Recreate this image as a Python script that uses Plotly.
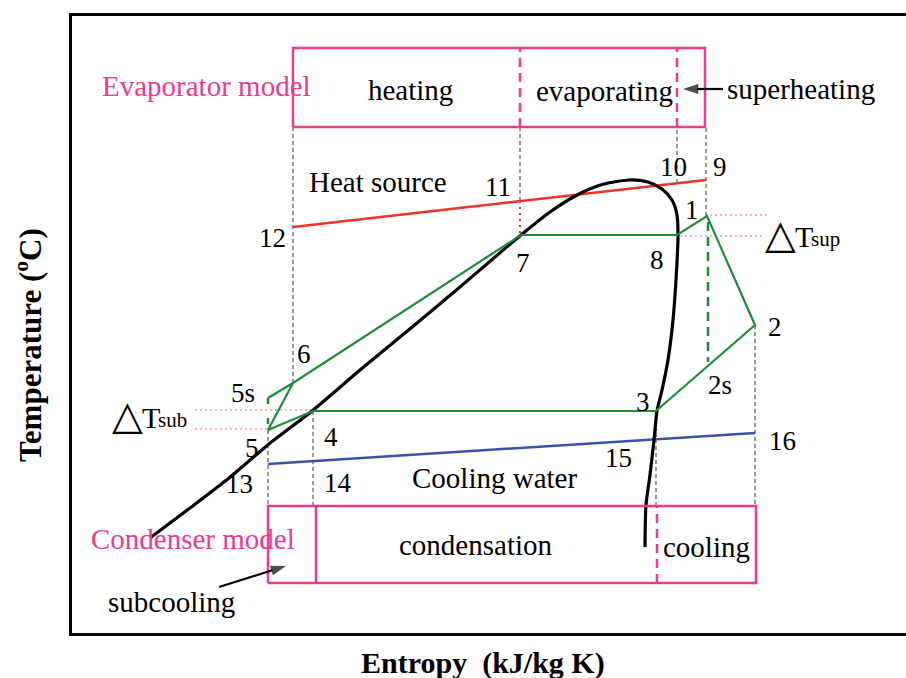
import plotly.graph_objects as go

# ---------------- data (schematic entropy s, temperature T) ----------------
point_names = ["1", "2", "2s", "3", "4", "5", "5s", "6", "7", "8",
               "9", "10", "11", "12", "13", "14", "15", "16"]
point_s = [635, 683, 635, 584, 241, 196, 196, 221, 449, 605,
           634, 605, 448, 221, 196, 244, 584, 683]
point_T = [417, 308, 271, 222, 222, 203, 235, 250, 398, 398,
           453, 450, 432, 406, 169, 172, 193, 200]

# saturation dome
dome_s = [78, 118, 157, 197, 240, 288, 339, 388, 449, 478, 507, 532, 557, 576,
          590, 600, 605, 606, 604, 601, 596, 590, 585, 582, 578, 574, 573]
dome_T = [95, 125, 155, 189, 222, 263, 305, 346, 398, 421, 439, 449, 453, 451,
          444, 433, 418, 398, 353, 313, 273, 243, 222, 193, 158, 128, 86]

cycle_path = ["5s", "6", "7", "8", "1", "2", "3", "4", "5", "6"]
heat_source = ["12", "9"]
cooling_water = ["13", "16"]

P = {n: (s, t) for n, s, t in zip(point_names, point_s, point_T)}

# ---------------- styles ----------------
FONT = "Liberation Serif, Times New Roman, serif"
PINK = "#ec3a8d"
GREEN = "#1e8b3e"
RED = "#f0322a"
LRED = "#f39a9a"
BLUE = "#3a52a6"
DASHC = "#333333"

EVAP_T = (506, 585)
COND_T = (50, 127)

fig = go.Figure()


def line(xs, ys, color, width, dash=None, shape="linear", smoothing=None):
    ln = dict(color=color, width=width, dash=dash, shape=shape)
    if smoothing is not None:
        ln["smoothing"] = smoothing
    fig.add_trace(go.Scatter(x=xs, y=ys, mode="lines", hoverinfo="skip",
                             line=ln, showlegend=False))


def arrow(x0, y0, x1, y1):
    fig.add_trace(go.Scatter(x=[x0, x1], y=[y0, y1], mode="lines+markers", hoverinfo="skip",
                             line=dict(color="black", width=2.2),
                             marker=dict(symbol=["circle", "arrow"], size=[0, 16],
                                         angleref="previous", color="black",
                                         line=dict(width=0)),
                             showlegend=False))


# black dashed guide lines
guides = [
    (P["6"][0], P["6"][1], EVAP_T[0]),
    (P["11"][0], P["11"][1], EVAP_T[0]),
    (P["10"][0], P["10"][1], EVAP_T[0]),
    (P["9"][0], P["1"][1], EVAP_T[0]),
    (P["5"][0], P["5"][1], COND_T[1]),
    (P["4"][0], P["4"][1], COND_T[1]),
    (P["3"][0], P["3"][1], COND_T[1]),
    (P["2"][0], P["2"][1], COND_T[1]),
]
for s, t0, t1 in guides:
    line([s, s], [t0, t1], DASHC, 1, dash="4px,3px")

# red dotted verticals
line([P["11"][0], P["11"][0]], [P["11"][1], P["7"][1]], RED, 2, dash="2px,4px")
line([P["3"][0], P["3"][0]], [P["3"][1], P["15"][1]], RED, 2, dash="2px,4px")

# delta T dotted lines
line([P["1"][0] + 3, 695], [P["1"][1] + 1, P["1"][1] + 1], LRED, 1.5, dash="2px,3px")
line([P["8"][0] + 3, 691], [P["8"][1] - 1, P["8"][1] - 1], LRED, 1.5, dash="2px,3px")
line([123, P["4"][0]], [P["4"][1] + 1, P["4"][1] + 1], LRED, 1.5, dash="2px,3px")
line([123, P["5"][0]], [P["5"][1] + 1, P["5"][1] + 1], LRED, 1.5, dash="2px,3px")

# heat source / cooling water
line([P[n][0] for n in heat_source], [P[n][1] for n in heat_source], RED, 2.5)
line([P[n][0] for n in cooling_water], [P[n][1] for n in cooling_water], BLUE, 2.5)

# saturation dome
line(dome_s, dome_T, "black", 3.2, shape="spline", smoothing=0.7)

# cycle
line([P[n][0] for n in cycle_path], [P[n][1] for n in cycle_path], GREEN, 2.2)
line([P["5s"][0], P["5"][0]], [P["5s"][1], P["5"][1]], GREEN, 2.5, dash="6px,14px")
line([P["1"][0] + 1, P["2s"][0] + 1], [P["1"][1] - 6, P["2s"][1]], GREEN, 2.5, dash="9px,6px")

# evaporator box
e_l, e_r = P["12"][0], P["9"][0] - 1
line([e_l, e_r, e_r, e_l, e_l], [EVAP_T[0], EVAP_T[0], EVAP_T[1], EVAP_T[1], EVAP_T[0]], PINK, 2.5)
for s in (P["7"][0] - 1, P["8"][0]):
    line([s, s], [EVAP_T[0], EVAP_T[1]], PINK, 2.5, dash="9px,6px")

# condenser box
c_l, c_r = P["5"][0], P["2"][0] + 1
line([c_l, c_r, c_r, c_l, c_l], [COND_T[0], COND_T[0], COND_T[1], COND_T[1], COND_T[0]], PINK, 2.5)
line([P["4"][0] + 3, P["4"][0] + 3], [COND_T[0], COND_T[1]], PINK, 2.5)
line([P["3"][0] + 1, P["3"][0] + 1], [COND_T[0], COND_T[1]], PINK, 2.5, dash="9px,6px")

# arrows
arrow(651, 544, 611, 544)
arrow(147, 46, 214, 67)

# ---------------- annotations ----------------
ann = []


def txt(s, t, text, size=27, color="black", xanchor="center", family=FONT):
    ann.append(dict(x=s, y=t, xref="x", yref="y", text=text, showarrow=False,
                    font=dict(family=family, size=size, color=color),
                    xanchor=xanchor, yanchor="middle"))


label_pos = {
    "1": (620, 423), "2": (703, 306), "2s": (648, 248), "3": (571, 231),
    "4": (259, 196), "5": (180, 185), "5s": (171, 240), "6": (232, 279),
    "7": (451, 370), "8": (585, 373), "9": (648, 466), "10": (601, 466),
    "11": (426, 446), "12": (200, 395), "13": (167, 149), "14": (266, 150),
    "15": (546, 175), "16": (710, 192),
}
for n in point_names:
    txt(label_pos[n][0], label_pos[n][1], n, size=27)

txt(134, 547, "Evaporator model", size=29, color=PINK)
txt(338, 543, "heating", size=29)
txt(532, 542, "evaporating", size=29)
txt(729, 544, "superheating", size=29)
txt(306, 451, "Heat source", size=29)
txt(422, 155, "Cooling water", size=29)
txt(404, 88, "condensation", size=29)
txt(634, 86, "cooling", size=29)
txt(121, 94, "Condenser model", size=29, color=PINK)
txt(99, 31, "subcooling", size=29)

# delta T labels: triangle, T and small suffix
for s0, t0, suffix in [(691, 397, "sup"), (38, 216, "sub")]:
    txt(s0, t0 + 2, "△", size=40, xanchor="left", family="DejaVu Sans")
    txt(s0 + 30, t0, "T", size=30, xanchor="left")
    txt(s0 + 46, t0 - 3, suffix, size=21, xanchor="left")

# axis titles (paper coordinates)
ann.append(dict(x=(483 - 72) / 834, y=-30 / 617, xref="paper", yref="paper",
                text="<b>Entropy  (kJ/kg K)</b>",
                showarrow=False, font=dict(family=FONT, size=30, color="black"),
                xanchor="center", yanchor="middle"))
ann.append(dict(x=-44 / 834, y=288 / 617, xref="paper", yref="paper",
                text="<b>Temperature (<sup>o</sup>C)</b>",
                showarrow=False, textangle=-90, font=dict(family=FONT, size=31, color="black"),
                xanchor="center", yanchor="middle"))

fig.update_layout(
    width=906, height=678,
    margin=dict(l=72, r=0, t=16, b=45),
    paper_bgcolor="white", plot_bgcolor="white",
    annotations=ann,
    xaxis=dict(range=[0, 834], showgrid=False, zeroline=False, showticklabels=False,
               ticks="", showline=True, mirror=True, linecolor="black", linewidth=2.5),
    yaxis=dict(range=[0, 617], showgrid=False, zeroline=False, showticklabels=False,
               ticks="", showline=True, mirror=False, linecolor="black", linewidth=2.5),
)

fig.write_html("out.html", config={"displayModeBar": False},
               post_script="document.body.style.margin='0';document.body.style.overflow='hidden';")
